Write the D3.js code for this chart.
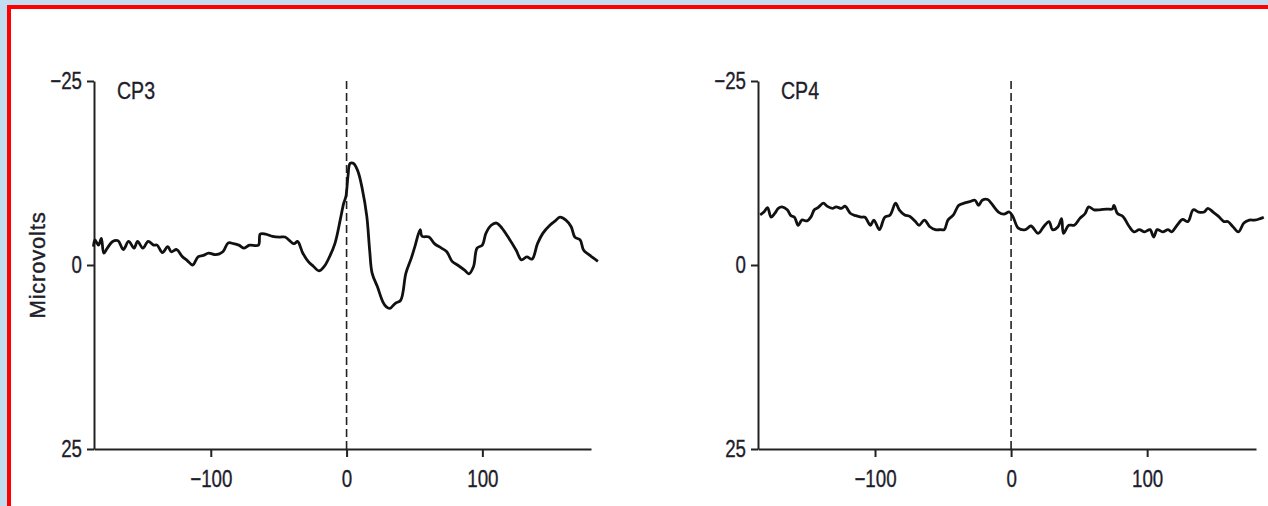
<!DOCTYPE html>
<html>
<head>
<meta charset="utf-8">
<script src="https://cdnjs.cloudflare.com/ajax/libs/d3/7.8.5/d3.min.js"></script>
<style>
  body { margin: 0; background: #c2ddef; }
  .tick text { font-family: 'Liberation Sans', Arial, sans-serif; fill: #1d1d2b; stroke: #1d1d2b; stroke-width: 0.35px; }
</style>
</head>
<body>
<div id="vis"></div>
<script>
// ERP traces, time in ms, voltage in microvolts (negative is drawn up)
let cp3Time = [-186.4, -185.3, -182.7, -180.6, -178.8, -176.2, -172.3, -168.3, -164.4, -160.5, -156.5, -153.9, -150.0, -146.1, -142.1, -139.5, -135.6, -131.7, -129.1, -125.1, -121.2, -117.3, -113.4, -109.4, -105.5, -101.6, -96.3, -91.1, -87.2, -83.2, -79.3, -75.4, -71.5, -64.9, -63.6, -59.7, -54.5, -49.2, -45.3, -38.7, -36.1, -32.2, -28.3, -24.3, -20.4, -16.5, -12.6, -8.6, -4.7, -2.1, -0.5, 1.0, 2.6, 5.2, 8.4, 11.5, 14.9, 17.0, 18.8, 22.8, 26.7, 29.3, 31.9, 35.9, 39.8, 43.7, 47.6, 50.3, 54.2, 55.5, 60.7, 64.7, 69.9, 73.8, 77.7, 81.7, 86.9, 90.1, 93.5, 96.1, 100.0, 102.6, 106.5, 110.5, 114.4, 119.6, 124.9, 128.8, 132.7, 136.6, 140.6, 144.5, 149.7, 153.7, 157.1, 161.5, 165.4, 168.1, 172.0, 174.6, 178.5, 185.1]
let cp3Volts = [-2.5, -3.4, -2.7, -3.6, -1.6, -2.3, -3.2, -3.3, -2.1, -3.2, -2.3, -3.2, -2.3, -3.2, -2.7, -2.7, -1.7, -2.5, -1.8, -2.1, -1.2, -0.6, 0, -1.1, -1.3, -1.6, -1.4, -1.8, -3.0, -2.9, -2.7, -2.3, -2.7, -2.7, -4.2, -4.2, -3.9, -3.8, -3.8, -2.9, -3.2, -1.6, -0.5, 0.2, 0.8, 0.2, -1.1, -2.9, -6.1, -8.4, -9.3, -12.0, -13.8, -13.8, -12.7, -10.4, -6.6, -2.0, 1.1, 3.0, 5.0, 5.7, 5.9, 5.2, 4.8, 1.1, -0.9, -2.5, -4.8, -3.9, -3.8, -2.9, -2.3, -1.8, -0.5, 0, 0.7, 1.2, 0.2, -2.3, -2.7, -4.3, -5.4, -5.7, -5.0, -3.6, -2.0, -0.7, -1.1, -0.8, -2.9, -4.3, -5.4, -6.0, -6.5, -6.1, -5.2, -3.8, -3.4, -2.0, -1.4, -0.5]

let cp4Time = [-184.4, -181.7, -179.0, -176.4, -173.7, -171.1, -168.4, -164.5, -161.8, -159.2, -156.5, -153.8, -149.9, -147.2, -144.6, -141.9, -137.9, -135.3, -131.3, -128.6, -124.7, -122.0, -118.0, -114.1, -110.1, -107.4, -103.4, -100.8, -96.8, -92.8, -88.9, -84.9, -82.2, -78.2, -74.3, -70.3, -67.6, -63.7, -59.7, -55.7, -51.7, -49.1, -46.4, -42.4, -38.5, -34.5, -30.5, -26.5, -23.9, -21.2, -17.2, -14.6, -9.3, -5.3, -1.3, 1.3, 5.3, 10.6, 14.6, 19.9, 23.9, 27.9, 30.5, 34.5, 37.1, 38.5, 42.4, 46.4, 50.4, 54.4, 57.0, 61.0, 65.0, 70.3, 74.3, 75.6, 78.2, 82.2, 86.2, 90.2, 94.2, 98.1, 102.1, 104.8, 107.4, 111.4, 115.4, 118.0, 122.0, 126.0, 130.0, 133.9, 137.9, 141.9, 144.6, 148.5, 152.5, 156.5, 159.2, 163.1, 167.1, 171.1, 175.1, 179.0, 183.0, 185.7]
let cp4Volts = [-6.8, -7.2, -7.8, -6.5, -7.0, -7.7, -7.9, -7.5, -6.7, -6.5, -5.4, -6.1, -6.0, -6.5, -7.5, -7.8, -8.4, -8.0, -7.7, -7.9, -7.7, -8.0, -7.0, -6.7, -6.5, -6.5, -5.4, -6.1, -4.8, -6.5, -6.8, -8.4, -7.5, -6.8, -6.6, -5.9, -5.4, -6.1, -5.2, -4.8, -4.8, -4.8, -6.1, -6.8, -8.1, -8.4, -8.6, -8.8, -8.1, -8.8, -8.9, -8.4, -7.2, -6.9, -7.2, -6.6, -5.0, -4.8, -5.3, -4.3, -5.2, -5.9, -4.8, -5.2, -6.3, -4.3, -5.4, -5.4, -6.3, -7.0, -7.9, -7.5, -7.5, -7.6, -7.6, -8.1, -7.0, -6.6, -5.4, -4.5, -4.8, -4.5, -4.8, -3.8, -4.8, -4.5, -4.8, -4.5, -5.4, -6.2, -5.9, -7.5, -7.2, -7.2, -7.7, -7.2, -6.6, -5.9, -5.9, -5.2, -4.5, -5.7, -6.1, -6.1, -6.3, -6.5]

let xTicks = [-100, 0, 100]
let yTicks = [-25, 0, 25]
let channels = ['CP3', 'CP4']

let width = 1268,
  height = 506;

let narrow = 0.78 // the original type is a condensed face

let svg = d3.select('#vis')
  .append('svg')
  .attr('width', width)
  .attr('height', height)
  .style('display', 'block')

// red frame
svg.append('rect')
  .attr('x', 9)
  .attr('y', 7)
  .attr('width', width + 20)
  .attr('height', height + 20)
  .attr('fill', 'white')
  .attr('stroke', '#ff0000')
  .attr('stroke-width', 4)

let panels = [
  {name: channels[0], left: 94, right: 591, time: cp3Time, volts: cp3Volts},
  {name: channels[1], left: 758, right: 1256, time: cp4Time, volts: cp4Volts}
]

let y = d3.scaleLinear().domain([-25, 25]).range([81, 449])

panels.forEach(function(p) {
  let x = d3.scaleLinear().domain([-186, 180]).range([p.left, p.right])
  let g = svg.append('g')

  // y axis
  g.append('g')
    .attr('transform', 'translate(' + p.left + ',0)')
    .call(d3.axisLeft(y).tickValues(yTicks).tickSize(7).tickSizeOuter(0).tickPadding(5))
    .call(a => a.selectAll('text')
      .style('font-size', '24px')
      .attr('x', -12 / narrow)
      .attr('transform', 'scale(' + narrow + ',1)'))
    .call(a => a.selectAll('line, path').attr('stroke', '#222').attr('stroke-width', 2))

  // x axis
  g.append('g')
    .attr('transform', 'translate(0,' + y(25) + ')')
    .call(d3.axisBottom(x).tickValues(xTicks).tickSize(8).tickSizeOuter(0).tickPadding(13))
    .call(a => a.selectAll('text')
      .style('font-size', '24px')
      .attr('transform', 'scale(' + narrow + ',1)'))
    .call(a => a.selectAll('line, path').attr('stroke', '#222').attr('stroke-width', 2))

  // stimulus onset
  g.append('line')
    .attr('x1', x(0)).attr('x2', x(0))
    .attr('y1', y(-25)).attr('y2', y(25))
    .attr('stroke', '#222')
    .attr('stroke-width', 1.6)
    .attr('stroke-dasharray', '8,4')

  // trace
  let line = d3.line()
    .x((d, i) => x(p.time[i]))
    .y(d => y(d))
    .curve(d3.curveCatmullRom.alpha(0.5))
  g.append('path')
    .datum(p.volts)
    .attr('d', line)
    .attr('fill', 'none')
    .attr('stroke', '#111')
    .attr('stroke-width', 2.8)
    .attr('stroke-linejoin', 'round')

  g.append('text')
    .attr('transform', 'translate(' + (p.left + 23) + ',99) scale(0.85,1)')
    .text(p.name)
    .style('font-family', "'Liberation Sans', Arial, sans-serif")
    .style('font-size', '23px')
    .attr('fill', '#1d1d2b')
    .attr('stroke', '#1d1d2b')
    .attr('stroke-width', 0.35)
})

svg.append('text')
  .attr('transform', 'translate(45,265) rotate(-90)')
  .attr('text-anchor', 'middle')
  .text('Microvolts')
  .style('font-family', "'Liberation Sans', Arial, sans-serif")
  .style('font-size', '22px')
  .style('letter-spacing', '0.8px')
  .attr('fill', '#1d1d2b')
  .attr('stroke', '#1d1d2b')
  .attr('stroke-width', 0.4)
</script>
</body>
</html>
